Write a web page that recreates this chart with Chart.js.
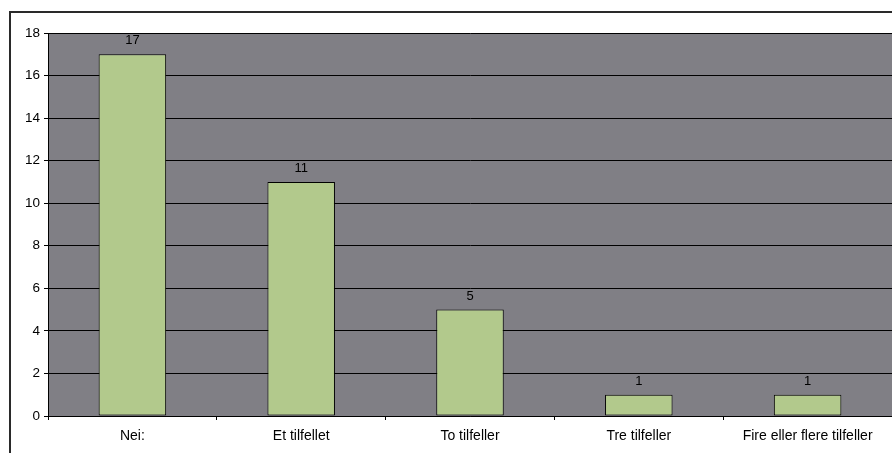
<!DOCTYPE html>
<html>
<head>
<meta charset="utf-8">
<script src="https://cdn.jsdelivr.net/npm/chart.js@4"></script>
<style>
  html, body { margin: 0; padding: 0; background: #fff; overflow: hidden; }
  #wrap { position: relative; width: 892px; height: 453px; }
  #frame { position: absolute; left: 9px; top: 11px; width: 900px; height: 460px; border: 2px solid #2a2a2a; box-sizing: border-box; }
  canvas { position: absolute; left: 0; top: 0; }
</style>
</head>
<body>
<div id="wrap">
  <div id="frame"></div>
  <canvas id="chart" width="892" height="453"></canvas>
</div>
<script>
// Answers per category
const categories = ['Nei:', 'Et tilfellet', 'To tilfeller', 'Tre tilfeller', 'Fire eller flere tilfeller'];
const counts = [17, 11, 5, 1, 1];
const yTicks = [0, 2, 4, 6, 8, 10, 12, 14, 16, 18];

const fontFamily = '"Liberation Sans", Arial, sans-serif';

// Gray plot background like the old spreadsheet chart
const plotBackground = {
    id: 'plotBackground',
    beforeDraw(chart) {
        const { ctx, chartArea } = chart;
        ctx.save();
        ctx.fillStyle = '#807f85';
        ctx.fillRect(chartArea.left, chartArea.top, chartArea.right - chartArea.left, chartArea.bottom - chartArea.top);
        ctx.restore();
    }
};

// Value labels above each bar
const valueLabels = {
    id: 'valueLabels',
    afterDatasetsDraw(chart) {
        const ctx = chart.ctx;
        ctx.save();
        ctx.fillStyle = '#000';
        ctx.font = '13px ' + fontFamily;
        ctx.textAlign = 'center';
        ctx.textBaseline = 'alphabetic';
        chart.getDatasetMeta(0).data.forEach((bar, i) => {
            ctx.fillText(String(counts[i]), bar.x, bar.y - 10);
        });
        ctx.restore();
    }
};

const ctx = document.getElementById('chart').getContext('2d');
new Chart(ctx, {
    type: 'bar',
    data: {
        labels: categories,
        datasets: [{
            data: counts,
            backgroundColor: '#b2c98c',
            borderColor: '#000',
            borderWidth: 1,
            borderSkipped: false,
            barPercentage: 0.4,
            categoryPercentage: 1
        }]
    },
    options: {
        responsive: false,
        animation: false,
        layout: { padding: { left: 0, top: 33, right: 0, bottom: 0 } },
        plugins: {
            legend: { display: false },
            tooltip: { enabled: false }
        },
        scales: {
            x: {
                offset: true,
                grid: {
                    offset: true,
                    drawOnChartArea: false,
                    drawTicks: true,
                    tickLength: 4,
                    color: '#000'
                },
                border: { color: '#000', width: 1 },
                ticks: {
                    color: '#000',
                    padding: 8,
                    maxRotation: 0,
                    autoSkip: false,
                    font: { family: fontFamily, size: 14 }
                },
                afterFit(scale) { scale.height = 37; }
            },
            y: {
                min: 0,
                max: 18,
                afterBuildTicks(scale) { scale.ticks = yTicks.map(v => ({ value: v })); },
                grid: {
                    color: '#000',
                    lineWidth: 1,
                    drawTicks: true,
                    tickLength: 4
                },
                border: { color: '#000', width: 1 },
                ticks: {
                    color: '#000',
                    padding: 4,
                    font: { family: fontFamily, size: 13.5 }
                },
                afterFit(scale) { scale.width = 48; }
            }
        }
    },
    plugins: [plotBackground, valueLabels]
});
</script>
</body>
</html>
